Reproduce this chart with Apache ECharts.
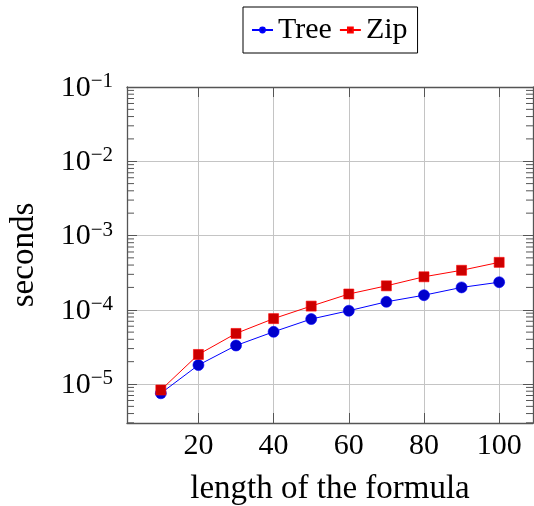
<!DOCTYPE html>
<html><head><meta charset="utf-8">
<script src="https://cdn.jsdelivr.net/npm/echarts@6/dist/echarts.min.js"></script>
<style>html,body{margin:0;padding:0;background:#fff}#c{width:534px;height:506px}</style>
</head><body><div id="c"></div>
<script>
const lengths = [10, 20, 30, 40, 50, 60, 70, 80, 90, 100];
const treeSeconds = [7.5e-6, 1.8e-5, 3.3e-5, 5.05e-5, 7.5e-5, 9.7e-5, 1.28e-4, 1.57e-4, 2.0e-4, 2.35e-4];
const zipSeconds = [8.3e-6, 2.5e-5, 4.8e-5, 7.6e-5, 1.12e-4, 1.63e-4, 2.1e-4, 2.78e-4, 3.4e-4, 4.35e-4];
const xTicks = [20, 40, 60, 80, 100];
const yTicks = [1e-5, 1e-4, 1e-3, 1e-2, 1e-1];
const yMinorTicks = [3e-6,4e-6,5e-6,6e-6,7e-6,8e-6,9e-6,
  2e-5,3e-5,4e-5,5e-5,6e-5,7e-5,8e-5,9e-5,
  2e-4,3e-4,4e-4,5e-4,6e-4,7e-4,8e-4,9e-4,
  2e-3,3e-3,4e-3,5e-3,6e-3,7e-3,8e-3,9e-3,
  2e-2,3e-2,4e-2,5e-2,6e-2,7e-2,8e-2,9e-2];
const X_MIN = 1, X_MAX = 109, Y_MIN = 2.985e-6, Y_MAX = 0.1;

const FONT = 'Liberation Serif';
const axisCol = '#555';
const chart = echarts.init(document.getElementById('c'), null, {renderer: 'canvas'});

function supLabel(v) {
  const e = Math.round(Math.log10(v));
  if (Math.abs(Math.log10(v) - e) > 1e-6) return '';
  return '{b|10}{s|\u2212' + Math.abs(e) + '}';
}

const xBase = {
  type: 'value', min: X_MIN, max: X_MAX,
  axisLine: {show: true, onZero: false, lineStyle: {color: axisCol, width: 1.3}},
  axisTick: {show: true, inside: true, length: 10, customValues: xTicks, lineStyle: {color: axisCol, width: 1}},
};
const yBase = {
  type: 'log', logBase: 10, min: Y_MIN, max: Y_MAX,
  axisLine: {show: true, onZero: false, lineStyle: {color: axisCol, width: 1.3}},
  axisTick: {show: true, inside: true, length: 10, customValues: yTicks, lineStyle: {color: axisCol, width: 1}},
};

chart.setOption({
  animation: false,
  grid: {left: 127, right: 1, top: 87, bottom: 83, containLabel: false, outerBoundsMode: 'none'},
  legend: {
    left: 243, top: 7,
    data: ['Tree', 'Zip'],
    itemWidth: 21, itemHeight: 6, itemGap: 7,
    padding: [8, 10, 8, 8],
    borderColor: '#000', borderWidth: 1,
    textStyle: {fontFamily: FONT, fontSize: 30, color: '#000'}
  },
  xAxis: [
    Object.assign({}, xBase, {
      position: 'bottom',
      name: 'length of the formula', nameLocation: 'middle', nameGap: 50,
      nameTextStyle: {fontFamily: FONT, fontSize: 33, color: '#000'},
      axisLabel: {show: true, customValues: xTicks, margin: 8, fontFamily: FONT, fontSize: 30, color: '#000'},
      splitLine: {show: true, lineStyle: {color: '#c4c4c4', width: 1}}
    }),
    Object.assign({}, xBase, {
      position: 'top', axisLabel: {show: false}, splitLine: {show: false}
    })
  ],
  yAxis: [
    Object.assign({}, yBase, {
      position: 'left',
      name: 'seconds', nameLocation: 'middle', nameGap: 86,
      nameTextStyle: {fontFamily: FONT, fontSize: 33, color: '#000'},
      axisLabel: {
        show: true, customValues: yTicks, margin: 14,
        formatter: supLabel,
        rich: {
          b: {fontFamily: FONT, fontSize: 30, color: '#000', lineHeight: 32, verticalAlign: 'bottom'},
          s: {fontFamily: FONT, fontSize: 21, color: '#000', lineHeight: 32, verticalAlign: 'top', padding: [0, 0, 12, 0]}
        }
      },
      splitLine: {show: true, lineStyle: {color: '#c4c4c4', width: 1}}
    }),
    Object.assign({}, yBase, {
      position: 'right', axisLabel: {show: false}, splitLine: {show: false}
    })
  ],
  series: [
    {
      name: 'Tree', type: 'line', xAxisIndex: 0, yAxisIndex: 0,
      data: lengths.map((x, i) => [x, treeSeconds[i]]),
      symbol: 'circle', symbolSize: 11,
      lineStyle: {color: '#0000ff', width: 1},
      itemStyle: {color: '#0000cc', borderColor: '#0000ff', borderWidth: 0.6},
      z: 3
    },
    {
      name: 'Zip', type: 'line', xAxisIndex: 0, yAxisIndex: 0,
      data: lengths.map((x, i) => [x, zipSeconds[i]]),
      symbol: 'rect', symbolSize: 10,
      lineStyle: {color: '#ff0000', width: 1},
      itemStyle: {color: '#cc0000', borderColor: '#ff0000', borderWidth: 0.6},
      z: 4
    },
    {
      name: 'minor', type: 'custom', xAxisIndex: 0, yAxisIndex: 0,
      data: yMinorTicks.map(v => [X_MIN, v]),
      encode: {x: 0, y: 1},
      silent: true, z: 1,
      renderItem: function (params, api) {
        const v = api.value(1);
        const pL = api.coord([X_MIN, v]);
        const pR = api.coord([X_MAX, v]);
        const st = {stroke: axisCol, lineWidth: 1};
        return {type: 'group', children: [
          {type: 'line', shape: {x1: pL[0], y1: pL[1], x2: pL[0] + 7, y2: pL[1]}, style: st},
          {type: 'line', shape: {x1: pR[0], y1: pR[1], x2: pR[0] - 7, y2: pR[1]}, style: st}
        ]};
      }
    }
  ]
});
</script></body></html>
